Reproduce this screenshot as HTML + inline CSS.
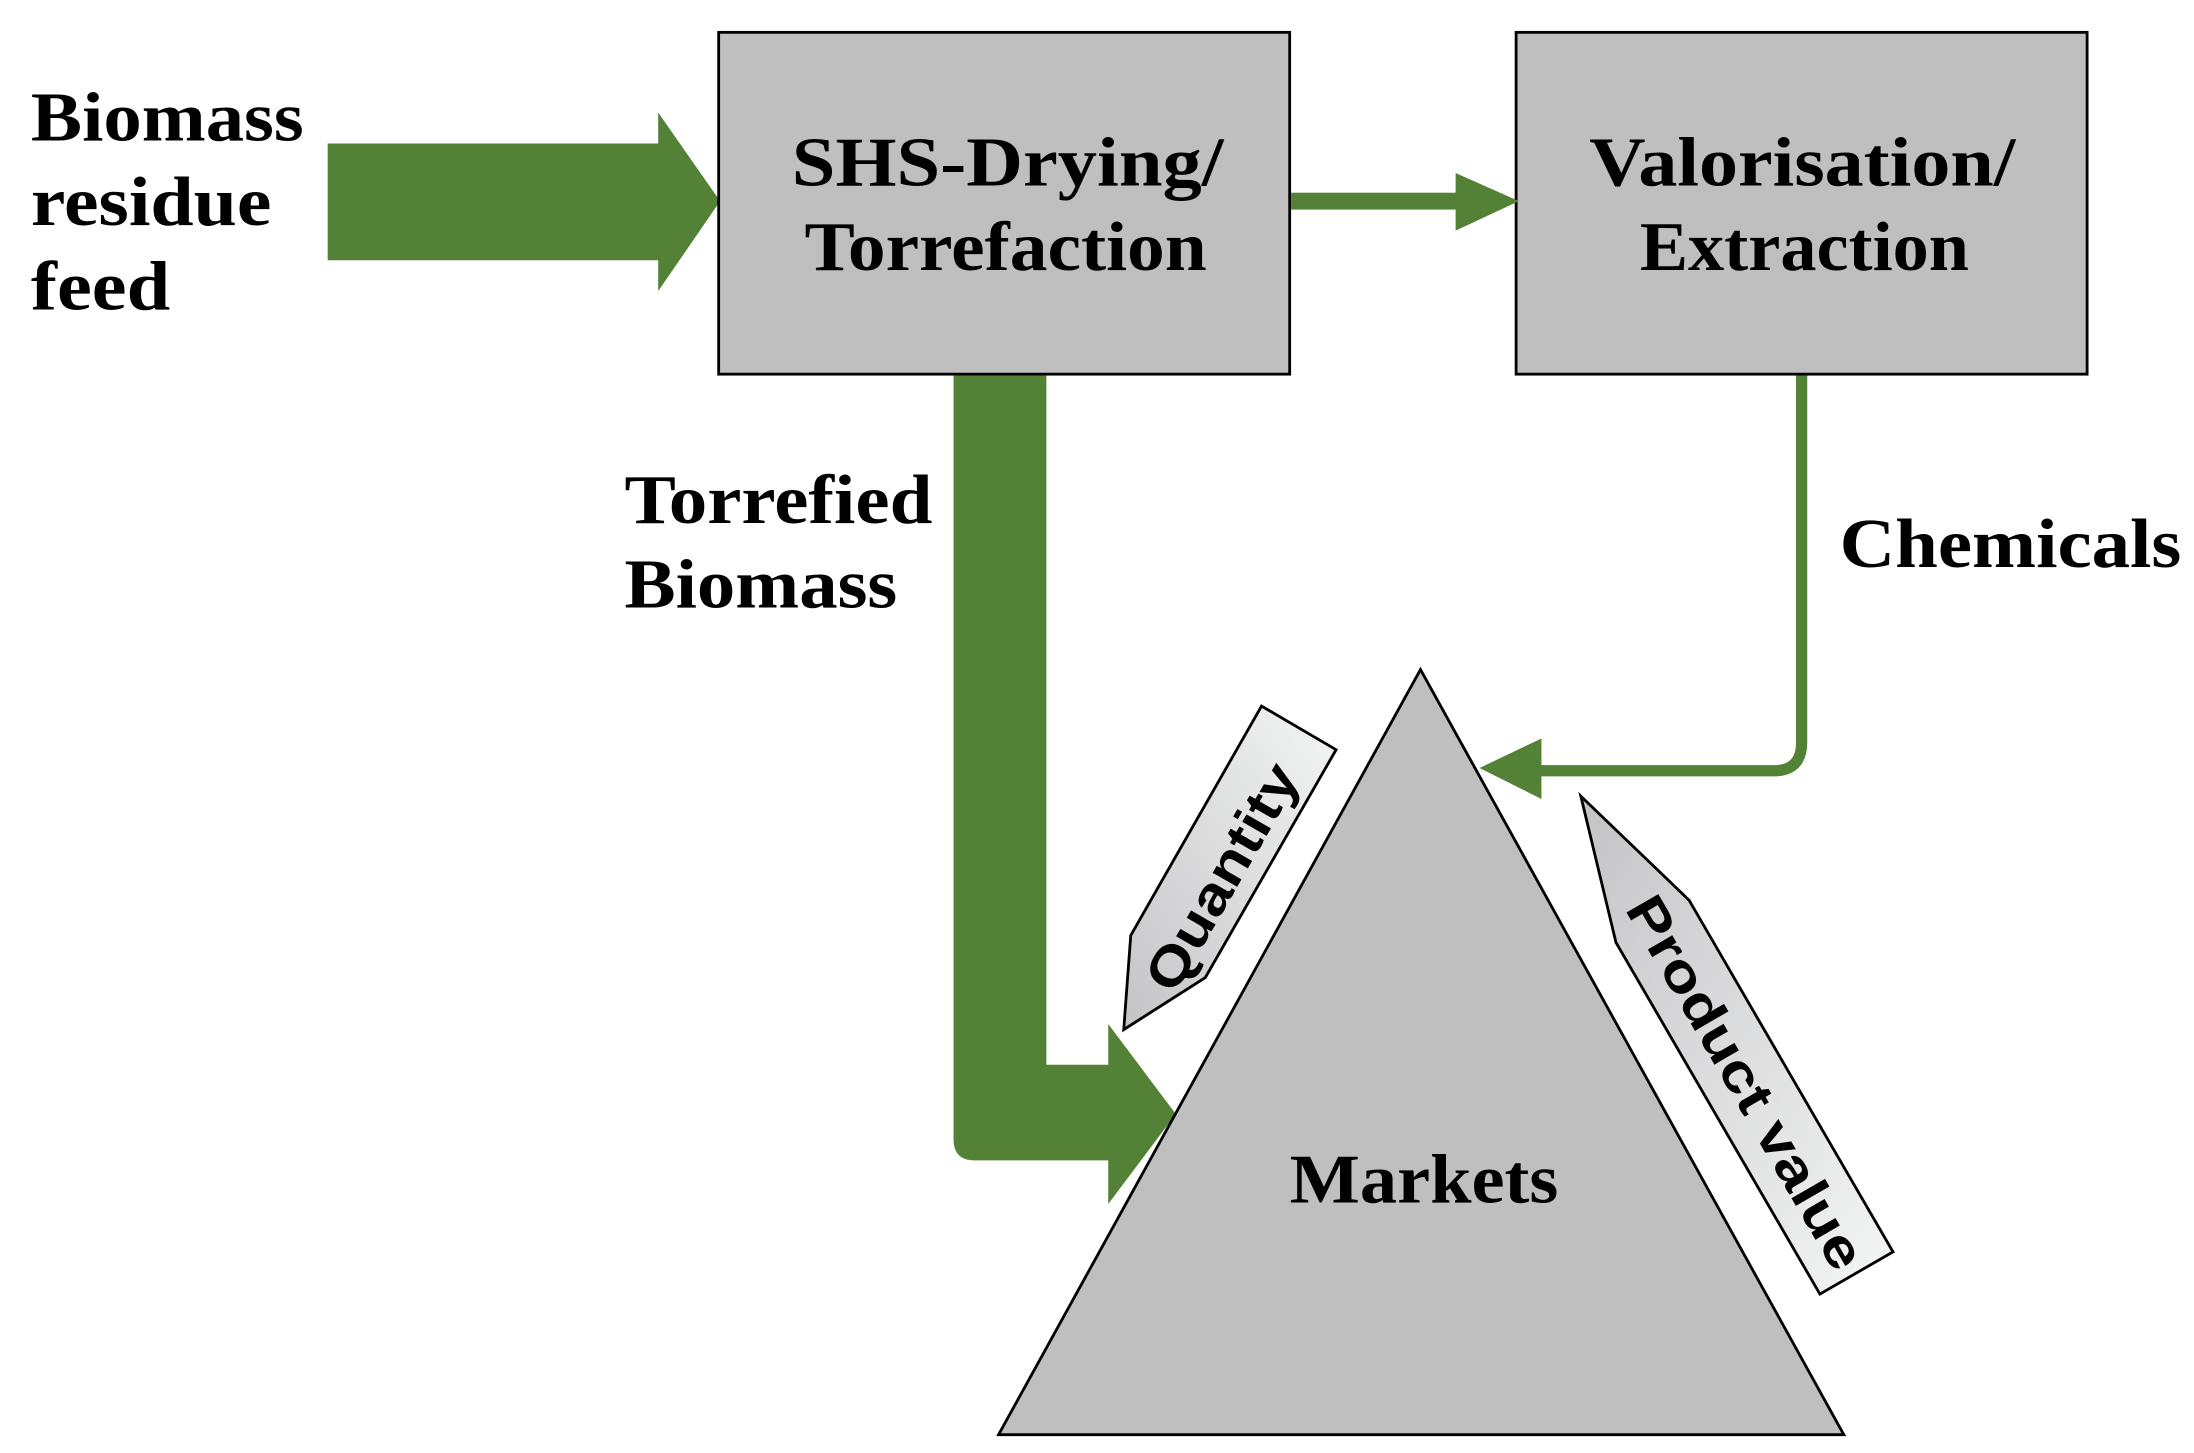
<!DOCTYPE html>
<html><head><meta charset="utf-8"><style>
html,body{margin:0;padding:0;background:#fff;}
svg{display:block;}
</style></head><body>
<svg width="2194" height="1453" viewBox="0 0 1560 1033" preserveAspectRatio="none" xmlns="http://www.w3.org/2000/svg">
<defs>
<linearGradient id="g1" x1="0" y1="1" x2="1" y2="0">
<stop offset="0" stop-color="#c4c4c6"/><stop offset="1" stop-color="#f4f5f5"/>
</linearGradient>
<linearGradient id="g2" x1="0" y1="0" x2="1" y2="1">
<stop offset="0" stop-color="#c4c4c6"/><stop offset="1" stop-color="#f4f5f5"/>
</linearGradient>
</defs>
<g font-family="'Liberation Serif', serif" font-weight="bold" fill="#000">
<!-- big input arrow -->
<polygon points="233,102 468,102 468,80 512,143 468,207 468,185 233,185" fill="#538135"/>
<!-- boxes -->
<rect x="511" y="23" width="406" height="243" fill="#c0bfc0" stroke="#000" stroke-width="2"/>
<rect x="1078" y="23" width="406" height="243" fill="#c0bfc0" stroke="#000" stroke-width="2"/>
<!-- box1 -> box2 arrow -->
<rect x="918" y="137" width="120" height="12" fill="#538135"/>
<polygon points="1035,123 1080,143 1035,164" fill="#538135"/>
<!-- torrefied path -->
<path d="M678,267 L744,267 L744,757 L790,757 L790,825 L693,825 Q678,825 678,810 Z" fill="#538135"/>
<polygon points="788,728 836,792 788,856" fill="#538135"/>
<!-- chemicals path -->
<path d="M1281,267 L1281,528 Q1281,548 1261,548 L1090,548" fill="none" stroke="#538135" stroke-width="8"/>
<polygon points="1096,525 1052,546 1096,568" fill="#538135"/>
<!-- triangle -->
<polygon points="1010,476 710,1020 1311,1020" fill="#c0bfc0" stroke="#000" stroke-width="2"/>
<!-- quantity label -->
<polygon points="897,502 950,533 857,695 799,732 804,665" fill="url(#g1)" stroke="#000" stroke-width="2"/>
<text x="0" y="0" font-family="'Liberation Sans', sans-serif" font-size="38" text-anchor="middle" transform="translate(880,630) rotate(-60)" textLength="180" lengthAdjust="spacingAndGlyphs">Quantity</text>
<!-- product value label -->
<polygon points="1124,566 1201,640 1346,890 1294,920 1149,670" fill="url(#g2)" stroke="#000" stroke-width="2"/>
<text x="0" y="0" font-family="'Liberation Sans', sans-serif" font-size="38" text-anchor="middle" transform="translate(1230,776) rotate(60)" textLength="300" lengthAdjust="spacingAndGlyphs">Product value</text>
<!-- texts -->
<g font-size="50">
<text x="22" y="100" textLength="194" lengthAdjust="spacingAndGlyphs">Biomass</text>
<text x="22" y="160" textLength="171" lengthAdjust="spacingAndGlyphs">residue</text>
<text x="22" y="220" textLength="99" lengthAdjust="spacingAndGlyphs">feed</text>
<text x="563" y="132" textLength="307" lengthAdjust="spacingAndGlyphs">SHS-Drying/</text>
<text x="572" y="192" textLength="286" lengthAdjust="spacingAndGlyphs">Torrefaction</text>
<text x="1130" y="132" textLength="303" lengthAdjust="spacingAndGlyphs">Valorisation/</text>
<text x="1166" y="192" textLength="234" lengthAdjust="spacingAndGlyphs">Extraction</text>
<text x="444" y="372" textLength="219" lengthAdjust="spacingAndGlyphs">Torrefied</text>
<text x="444" y="432" textLength="194" lengthAdjust="spacingAndGlyphs">Biomass</text>
<text x="1308" y="403" textLength="243" lengthAdjust="spacingAndGlyphs">Chemicals</text>
<text x="917" y="855" textLength="191" lengthAdjust="spacingAndGlyphs">Markets</text>
</g>
</g>
</svg>
</body></html>
